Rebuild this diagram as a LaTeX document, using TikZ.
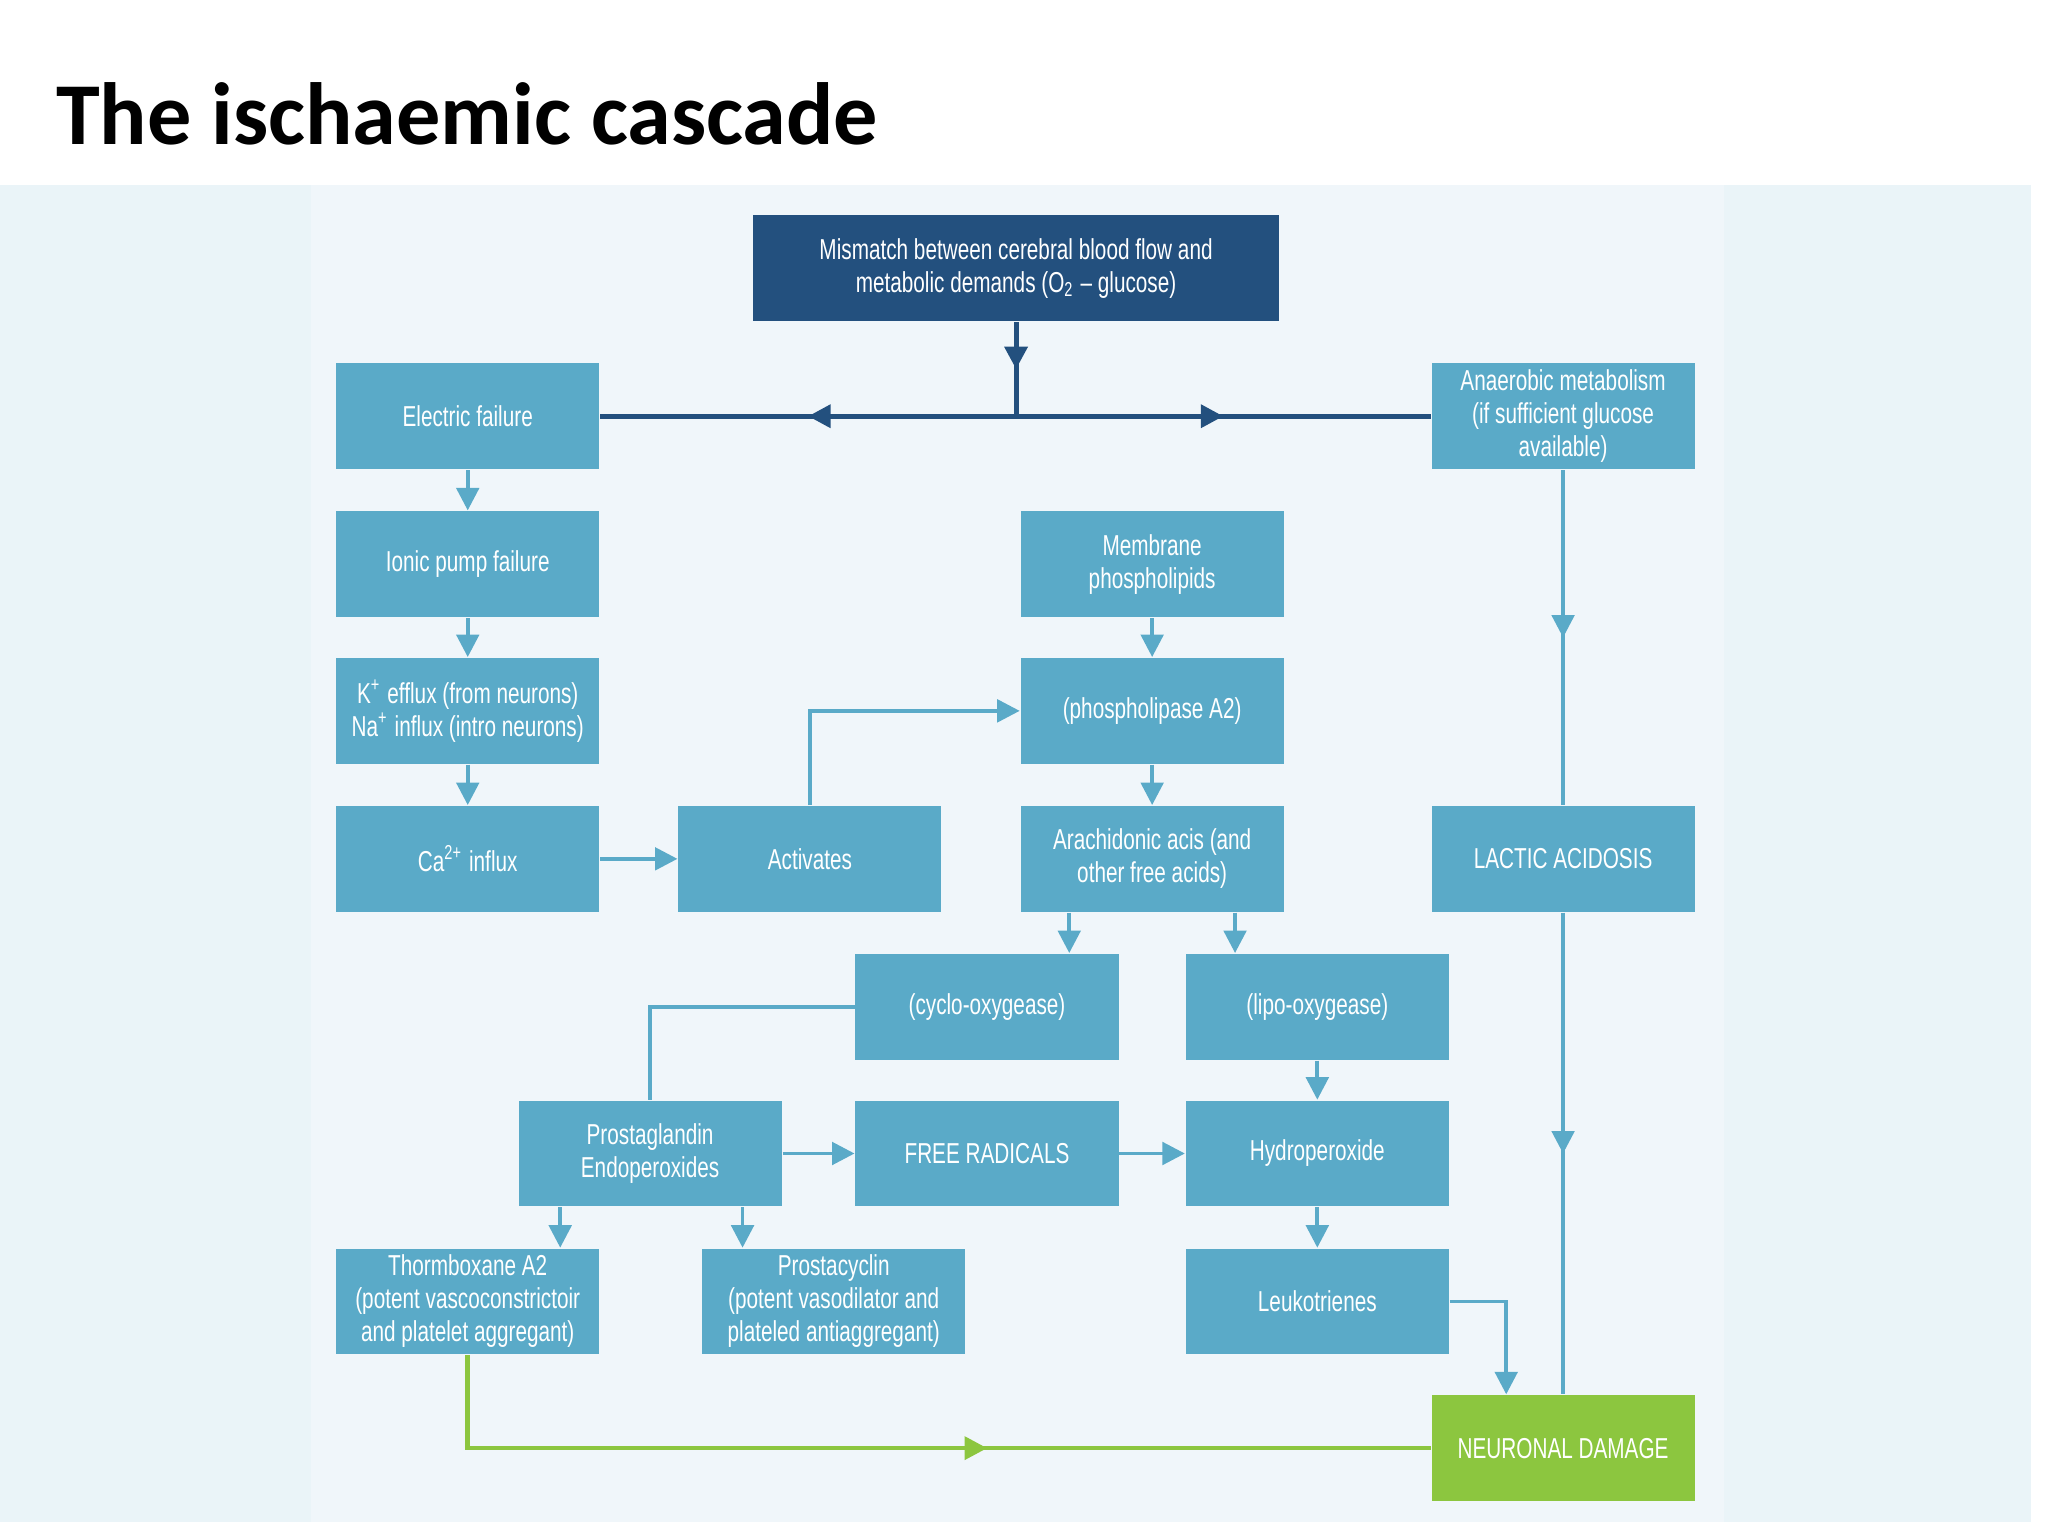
\documentclass[tikz,border=0pt]{standalone}
\usepackage{fontspec}
\setmainfont{Liberation Sans}
\newfontfamily\boxfont{Liberation Sans}[FakeStretch=0.72]
\newfontfamily\titlefont{Carlito}
\usetikzlibrary{arrows.meta, decorations.markings}
\definecolor{boxblue}{HTML}{5AAAC8}
\definecolor{darkblue}{HTML}{23507E}
\definecolor{leafgreen}{HTML}{8CC63F}
\definecolor{panel}{HTML}{EAF4F8}
\definecolor{inner}{HTML}{F0F6FA}
\tikzset{%
  >={Triangle[width=1.7mm,length=1.7mm]},
  % Specifications for style of nodes:
  base/.style = {draw=none, align=center, minimum width=1.99cm, minimum height=0.8cm,
                 inner sep=1pt, text=white, font=\boxfont\fontsize{6.2}{7.1}\selectfont},
  stage/.style = {base, fill=boxblue},
  source/.style = {base, fill=darkblue, minimum width=3.98cm},
  outcome/.style = {base, fill=leafgreen},
  norm/.style = {->, draw=boxblue, line width=0.8pt},
  midarrow/.style = {draw=#1, line width=0.8pt, decoration={markings,
                     mark=at position 0.5 with {\arrow{>}}}, postaction={decorate}},
  midarrow/.default = boxblue
}

\begin{document}
\begin{tikzpicture}[x=0.01cm, y=-0.01cm]
  \useasboundingbox (0,0) rectangle (1550,1162.5);
  \fill[panel] (0,140) rectangle (1537,1152);
  \fill[inner] (235,140) rectangle (1305,1152);
  \node (title) [anchor=west, font=\titlefont\bfseries\fontsize{19}{22}\selectfont] at (30,86) {The ischaemic cascade};

  % Boxes
  \node (mismatch) [source] at (769,203) {Mismatch between cerebral blood flow and\\metabolic demands (O\textsubscript{2} \textendash\ glucose)};
  \node (electric) [stage] at (354,315) {Electric failure};
  \node (ionic) [stage] at (354,427) {Ionic pump failure};
  \node (efflux) [stage] at (354,538) {K\textsuperscript{+} efflux (from neurons)\\Na\textsuperscript{+} influx (intro neurons)};
  \node (calcium) [stage] at (354,650) {Ca\textsuperscript{2+} influx};
  \node (activates) [stage] at (613,650) {Activates};
  \node (membrane) [stage] at (872,427) {Membrane\\phospholipids};
  \node (lipase) [stage] at (872,538) {(phospholipase A2)};
  \node (arachid) [stage] at (872,650) {Arachidonic acis (and\\other free acids)};
  \node (anaerob) [stage] at (1183,315) {Anaerobic metabolism\\(if sufficient glucose\\available)};
  \node (lactic) [stage] at (1183,650) {LACTIC ACIDOSIS};
  \node (cyclo) [stage] at (747,762) {(cyclo-oxygease)};
  \node (lipo) [stage] at (997,762) {(lipo-oxygease)};
  \node (prosta) [stage] at (492,873) {Prostaglandin\\Endoperoxides};
  \node (radicals) [stage] at (747,873) {FREE RADICALS};
  \node (hydro) [stage] at (997,873) {Hydroperoxide};
  \node (thromb) [stage] at (354,985) {Thormboxane A2\\(potent vascoconstrictoir\\and platelet aggregant)};
  \node (cyclin) [stage] at (631,985) {Prostacyclin\\(potent vasodilator and\\plateled antiaggregant)};
  \node (leuko) [stage] at (997,985) {Leukotrienes};
  \node (damage) [outcome] at (1183,1096) {NEURONAL DAMAGE};

  \coordinate (split) at (769,315);

  % Dark connectors from the top
  \draw [midarrow=darkblue, line width=1.1pt] (mismatch.south) -- (split);
  \draw [midarrow=darkblue, line width=1.1pt] (split) -- (electric.east);
  \draw [midarrow=darkblue, line width=1.1pt] (split) -- (anaerob.west);

  % Left column
  \draw [norm] (electric) -- (ionic);
  \draw [norm] (ionic) -- (efflux);
  \draw [norm] (efflux) -- (calcium);
  \draw [norm] (calcium) -- (activates);
  \draw [norm] (activates.north) |- (lipase.west);

  % Middle column
  \draw [norm] (membrane) -- (lipase);
  \draw [norm] (lipase) -- (arachid);
  \draw [norm] (arachid.south -| cyclo.north east) ++(-38,0) coordinate (a1) -- (a1 |- cyclo.north);
  \draw [norm] (arachid.south -| lipo.north west) ++(38,0) coordinate (a2) -- (a2 |- lipo.north);
  \draw [draw=boxblue, line width=0.8pt] (cyclo.west) -| (prosta.north);
  \draw [norm] (prosta) -- (radicals);
  \draw [norm] (radicals) -- (hydro);
  \draw [norm] (lipo) -- (hydro);
  \draw [norm] (hydro) -- (leuko);
  \draw [norm] (prosta.south -| thromb.north) ++(70,0) coordinate (p1) -- (p1 |- thromb.north);
  \draw [norm] (prosta.south) ++(70,0) coordinate (p2) -- (p2 |- cyclin.north);
  \draw [norm] (leuko.east) -| ([xshift=-0.43cm]damage.north);

  % Right column and green return
  \draw [midarrow] (anaerob) -- (lactic);
  \draw [midarrow] (lactic) -- (damage);
  \draw [draw=leafgreen, line width=1pt, decoration={markings,
         mark=at position 0.58 with {\arrow{>}}}, postaction={decorate}]
        (thromb.south) |- (damage.west);
\end{tikzpicture}
\end{document}
